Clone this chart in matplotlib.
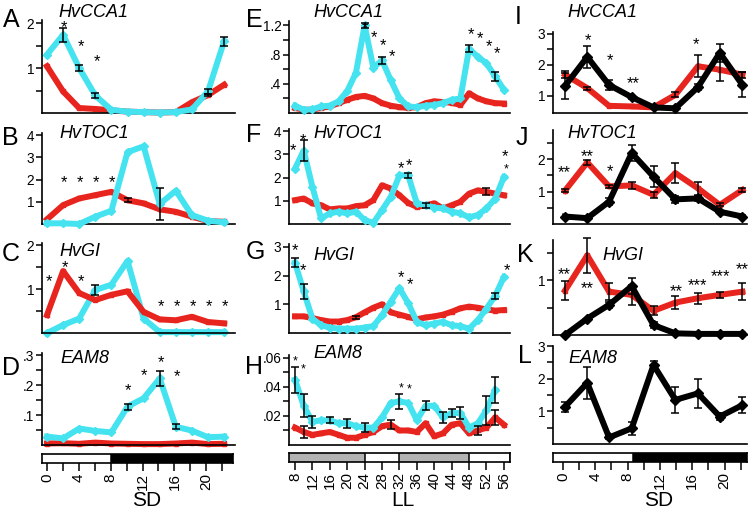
import matplotlib
matplotlib.use("Agg")
import matplotlib.pyplot as plt
from matplotlib.transforms import offset_copy

plt.rcParams['font.family'] = ['Liberation Sans', 'DejaVu Sans']

CYAN = '#45E3F0'
RED = '#E8241E'

# --- time axes ---
sd_t = [0, 2, 4, 6, 8, 10, 12, 14, 16, 18, 20, 22]
ll_t = [8, 10, 12, 14, 16, 18, 20, 22, 24, 26, 28, 30, 32, 34, 36, 38, 40,
        42, 44, 46, 48, 50, 52, 54, 56]
ll_t_h = ll_t[:-1]
sd3_t = [0.25, 3.0, 5.7, 8.5, 11.2, 13.9, 16.7, 19.4, 22.2]

# --- A HvCCA1 SD ---
a_cyan = [1.30, 1.74, 1.00, 0.39, 0.07, 0.03, 0.02, 0.01, 0.02, 0.08, 0.48, 1.60]
a_cyan_err = [0, 0.15, 0.07, 0.05, 0, 0, 0, 0, 0, 0, 0.05, 0.1]
a_red = [1.04, 0.48, 0.11, 0.09, 0.06, 0.03, 0.02, 0.01, 0.02, 0.24, 0.40, 0.63]
a_red_err = [0, 0, 0, 0, 0, 0, 0, 0, 0, 0, 0.03, 0]
a_stars = [(2.1, 2.01, '*'), (4.2, 1.59, '*'), (6.2, 1.24, '*')]

# --- B HvTOC1 SD ---
b_cyan = [0.03, 0.03, 0.0, 0.33, 0.6, 3.24, 3.5, 0.9, 1.5, 0.4, 0.15, 0.07]
b_cyan_err = [0, 0, 0, 0, 0, 0, 0, 0.7, 0, 0, 0, 0]
b_red = [0.21, 0.85, 1.15, 1.3, 1.45, 1.07, 0.93, 0.66, 0.55, 0.33, 0.13, 0.1]
b_red_err = [0, 0, 0, 0, 0, 0.1, 0, 0, 0, 0, 0, 0]
b_stars = [(2.1, 2.1, '*'), (4.1, 2.1, '*'), (6.1, 2.1, '*'), (8.1, 2.1, '*')]

# --- C HvGI SD ---
c_cyan = [0.0, 0.18, 0.33, 0.98, 1.1, 1.64, 0.33, 0.02, 0.02, 0.02, 0.02, 0.02]
c_cyan_err = [0, 0, 0, 0.12, 0, 0, 0, 0, 0, 0, 0, 0]
c_red = [0.41, 1.41, 0.91, 0.75, 0.87, 0.95, 0.48, 0.31, 0.29, 0.37, 0.25, 0.22]
c_red_err = [0] * 12
c_stars = [(0.2, 1.29, '*'), (2.2, 1.61, '*'), (4.2, 1.29, '*'), (14.1, 0.72, '*'),
           (16.1, 0.72, '*'), (18.1, 0.72, '*'), (20.1, 0.72, '*'), (22.1, 0.72, '*')]

# --- D EAM8 SD ---
d_cyan = [0.028, 0.022, 0.055, 0.047, 0.042, 0.128, 0.156, 0.222, 0.061, 0.048, 0.026, 0.028]
d_cyan_err = [0, 0, 0, 0, 0, 0.01, 0, 0.025, 0.008, 0, 0, 0]
d_red = [0.005, 0.006, 0.004, 0.008, 0.005, 0.004, 0.003, 0.003, 0.005, 0.008, 0.003, 0.004]
d_red_err = [0] * 12
d_stars = [(10.1, 0.197, '*'), (12.1, 0.247, '*'), (14.2, 0.29, '*'), (16.2, 0.243, '*')]

# --- E HvCCA1 LL ---
e_cyan = [0.10, 0.045, 0.05, 0.09, 0.10, 0.16, 0.30, 0.55, 1.20, 0.62, 0.72, 0.45, 0.20,
          0.09, 0.08, 0.10, 0.11, 0.135, 0.18, 0.20, 0.88, 0.77, 0.68, 0.50, 0.32]
e_cyan_err = [0, 0, 0, 0, 0, 0, 0, 0, 0.03, 0, 0.05, 0, 0, 0, 0, 0, 0, 0, 0, 0, 0.05, 0, 0, 0.06, 0]
e_red = [0.07, 0.045, 0.045, 0.07, 0.09, 0.135, 0.18, 0.22, 0.235, 0.2, 0.135, 0.1, 0.08,
         0.07, 0.08, 0.135, 0.16, 0.15, 0.14, 0.11, 0.27, 0.2, 0.16, 0.135, 0.13]
e_red_err = [0] * 25
e_stars = [(24.1, 1.22, '*'), (26.2, 1.1, '*'), (28.2, 0.99, '*'), (30.2, 0.84, '*'),
           (48.5, 1.14, '*'), (50.5, 1.09, '*'), (52.5, 0.98, '*'), (54.5, 0.88, '*')]

# --- F HvTOC1 LL ---
f_cyan = [2.39, 3.17, 1.6, 0.24, 0.46, 0.53, 0.46, 0.53, 0.17, 0.05, 0.6, 1.17, 2.1,
          2.1, 0.89, 0.81, 0.71, 0.67, 0.53, 0.46, 0.29, 0.39, 0.67, 1.1, 2.03]
f_cyan_err = [0, 0.45, 0, 0, 0, 0, 0, 0, 0, 0, 0, 0, 0, 0.12, 0, 0, 0, 0, 0, 0, 0, 0, 0, 0, 0]
f_red = [1.03, 1.1, 0.89, 0.81, 0.63, 0.67, 0.67, 0.77, 0.81, 1.03, 1.67, 1.53, 1.24,
         0.91, 0.74, 0.81, 0.89, 0.67, 0.81, 0.96, 1.31, 1.45, 1.39, 1.31, 1.24]
f_red_err = [0, 0, 0, 0, 0, 0, 0, 0, 0, 0, 0, 0, 0, 0, 0, 0.1, 0, 0, 0, 0, 0, 0, 0.15, 0, 0]
f_stars = [(7.6, 3.39, '*'), (9.9, 3.81, '*'), (32.3, 2.6, '*'), (34.3, 2.74, '*'),
           (56.3, 3.1, '*')]
f_small_stars = [(56.5, 2.53, '*')]

# --- G HvGI LL ---
g_cyan = [2.45, 1.45, 0.50, 0.27, 0.19, 0.15, 0.15, 0.15, 0.19, 0.24, 0.62, 1.09, 1.56,
          1.04, 0.39, 0.27, 0.33, 0.39, 0.27, 0.24, 0.15, 0.45, 0.85, 1.30, 1.95]
g_cyan_err = [0.15, 0.25, 0, 0, 0, 0, 0, 0, 0, 0, 0, 0, 0, 0, 0, 0, 0, 0, 0, 0, 0, 0, 0, 0.1, 0]
g_red = [0.58, 0.58, 0.52, 0.45, 0.40, 0.40, 0.45, 0.55, 0.72, 0.88, 1.0, 0.72, 0.64,
         0.56, 0.48, 0.54, 0.58, 0.64, 0.74, 0.86, 0.92, 0.88, 0.82, 0.78, 0.8]
g_red_err = [0, 0, 0, 0, 0, 0, 0, 0.05, 0, 0, 0, 0, 0, 0, 0, 0, 0, 0, 0, 0, 0, 0, 0, 0, 0]
g_stars = [(8.0, 3.04, '*'), (9.9, 2.35, '*'), (32.3, 2.09, '*'), (34.4, 1.84, '*'),
           (56.7, 2.35, '*')]

# --- H EAM8 LL ---
h_cyan = [0.045, 0.027, 0.016, 0.017, 0.017, 0.015, 0.015, 0.013, 0.012, 0.012, 0.019, 0.029,
          0.030, 0.029, 0.017, 0.027, 0.027, 0.019, 0.022, 0.022, 0.012, 0.015, 0.024, 0.038]
h_cyan_err = [0.009, 0.008, 0.004, 0, 0.002, 0, 0.003, 0, 0.003, 0, 0, 0, 0.005, 0, 0, 0.003,
              0, 0.004, 0.003, 0.004, 0, 0, 0.01, 0.009]
h_red = [0.012, 0.009, 0.007, 0.008, 0.009, 0.007, 0.005, 0.005, 0.007, 0.009, 0.013, 0.014,
         0.010, 0.010, 0.009, 0.015, 0.006, 0.008, 0.014, 0.015, 0.008, 0.010, 0.012, 0.019, 0.014]
h_red_err = [0, 0.004, 0, 0, 0, 0, 0, 0, 0, 0, 0, 0.003, 0, 0, 0, 0, 0, 0, 0, 0, 0, 0.003, 0, 0.005, 0]
h_small_stars = [(8.0, 0.060, '*'), (9.8, 0.055, '*'), (32.3, 0.042, '*'), (34.3, 0.041, '*')]

# --- I HvCCA1 SD ---
i_black = [1.32, 2.25, 1.35, 0.96, 0.63, 0.60, 1.28, 2.38, 1.35]
i_black_err = [0.42, 0.35, 0.15, 0.05, 0, 0, 0.1, 0.28, 0.4]
i_red = [1.68, 1.25, 0.68, 0.66, 0.63, 1.03, 1.95, 1.84, 1.68]
i_red_err = [0.12, 0.05, 0, 0, 0, 0.08, 0.35, 0.35, 0.1]
i_stars = [(3.1, 2.94, '*'), (5.8, 2.29, '*'), (8.7, 1.54, '**'), (16.5, 2.8, '*')]

# --- J HvTOC1 SD ---
j_black = [0.23, 0.18, 0.69, 2.19, 1.46, 0.76, 0.79, 0.38, 0.23]
j_black_err = [0, 0, 0.1, 0.25, 0.32, 0.1, 0.08, 0, 0]
j_red = [1.03, 1.9, 1.16, 1.19, 0.9, 1.57, 1.1, 0.59, 1.05]
j_red_err = [0.05, 0.07, 0.05, 0.12, 0.1, 0.3, 0.2, 0.05, 0.05]
j_stars = [(0.2, 1.72, '**'), (3.0, 2.24, '**'), (5.8, 1.77, '*')]

# --- K HvGI SD ---
k_black = [0.0, 0.3, 0.55, 0.89, 0.18, 0.03, 0.02, 0.02, 0.02]
k_black_err = [0, 0, 0.05, 0.14, 0.05, 0, 0, 0, 0]
k_red = [0.81, 1.45, 0.79, 0.73, 0.44, 0.59, 0.67, 0.73, 0.79]
k_red_err = [0.17, 0.32, 0.15, 0.18, 0.08, 0.12, 0.1, 0.05, 0.15]
k_stars = [(0.2, 1.19, '**'), (3.0, 0.94, '**'), (14.0, 0.88, '**'), (16.7, 0.99, '***'),
           (19.5, 1.15, '***'), (22.2, 1.27, '**')]

# --- L EAM8 SD ---
l_black = [1.14, 1.87, 0.2, 0.48, 2.42, 1.35, 1.55, 0.84, 1.19]
l_black_err = [0.15, 0.5, 0.05, 0.2, 0.12, 0.4, 0.45, 0.12, 0.25]

W, H = 749, 509
fig = plt.figure(figsize=(W / 100, H / 100), dpi=100)


def px_axes(left, right, top, bottom):
    return fig.add_axes([left / W, 1 - bottom / H, (right - left) / W, (bottom - top) / H])


def panel(left, right, top, bottom, xlim, ylim, major, labels, minor):
    ax = px_axes(left, right, top, bottom)
    ax.set_xlim(xlim)
    ax.set_ylim(ylim)
    ax.patch.set_alpha(0)
    ax.spines['top'].set_visible(False)
    ax.spines['right'].set_visible(False)
    ax.spines['left'].set_linewidth(1.2)
    ax.spines['bottom'].set_linewidth(1.2)
    ax.set_xticks([])
    ax.set_yticks(major)
    ax.set_yticklabels(labels)
    ax.set_yticks(minor, minor=True)
    ax.tick_params(axis='y', which='both', direction='out', length=4, width=1.1,
                   labelsize=9.8, pad=1.5)
    return ax


def series(ax, t, y, err, color, marker, ms, z):
    ax.plot(t, y, color=color, lw=4.3, marker=marker, ms=ms, mec=color, zorder=z,
            clip_on=False)
    tt = [a for a, e in zip(t, err) if e > 0]
    yy = [b for b, e in zip(y, err) if e > 0]
    ee = [e for e in err if e > 0]
    if ee:
        ax.errorbar(tt, yy, yerr=ee, fmt='none', ecolor='k', elinewidth=1.1,
                    capsize=2.6, capthick=1.1, zorder=z + 5, clip_on=False)


def stars(ax, pts, fs=12):
    tr = offset_copy(ax.transData, fig=fig, y=-0.56 * fs, units='points')
    for x, y, s in pts:
        ax.text(x, y, s, transform=tr, ha='center', va='baseline', fontsize=fs,
                clip_on=False)


def timeline(left, right, top, bottom, xlim, segs, ticks, labels, minor):
    ax = px_axes(left, right, top, bottom)
    ax.set_xlim(xlim)
    ax.set_ylim(0, 1)
    for x0, x1, c in segs:
        ax.axvspan(x0, x1, color=c, lw=0)
        ax.axvline(x1, color='k', lw=1.1)
    for s in ax.spines.values():
        s.set_linewidth(1.2)
    ax.set_yticks([])
    ax.set_xticks(ticks)
    ax.set_xticklabels(labels, rotation=90)
    ax.set_xticks(minor, minor=True)
    ax.tick_params(axis='x', which='both', direction='out', length=6, width=1.1,
                   labelsize=11, pad=1.5)
    return ax


# column geometry
c1 = (42, 235, (-0.62, 23.35))
c2 = (289, 510, (6.62, 57.4))
c3 = (553, 747, (-1.24, 22.77))

# column 1
ax = panel(c1[0], c1[1], 20, 113, c1[2], (0, 2.07), [1, 2], ['1', '2'], [0.5, 1.5])
series(ax, sd_t, a_red, a_red_err, RED, 's', 3.5, 2)
series(ax, sd_t, a_cyan, a_cyan_err, CYAN, 'D', 4, 3)
stars(ax, a_stars)

ax = panel(c1[0], c1[1], 133, 224, c1[2], (0, 4.1), [1, 2, 3, 4], ['1', '2', '3', '4'], [])
series(ax, sd_t, b_red, b_red_err, RED, 's', 3.5, 2)
series(ax, sd_t, b_cyan, b_cyan_err, CYAN, 'D', 4, 3)
stars(ax, b_stars)

ax = panel(c1[0], c1[1], 243, 333, c1[2], (0, 2.05), [1, 2], ['1', '2'], [0.5, 1.5])
series(ax, sd_t, c_cyan, c_cyan_err, CYAN, 'D', 4, 2)
series(ax, sd_t, c_red, c_red_err, RED, 's', 3.5, 3)
stars(ax, c_stars)

ax = panel(c1[0], c1[1], 353, 445, c1[2], (0, 0.307), [0.1, 0.2, 0.3], ['.1', '.2', '.3'],
           [0.05, 0.15, 0.25])
series(ax, sd_t, d_red, d_red_err, RED, 's', 3.5, 2)
series(ax, sd_t, d_cyan, d_cyan_err, CYAN, 'D', 4, 3)
stars(ax, d_stars)

timeline(c1[0], c1[1] - 2, 454, 463, c1[2], [(-0.62, 8, 'white'), (8, 23.35, 'black')],
         [0, 4, 8, 12, 16, 20], ['0', '4', '8', '12', '16', '20'],
         [2, 6, 10, 14, 18, 22])

# column 2
ax = panel(c2[0], c2[1], 21, 113, c2[2], (0, 1.26), [0.4, 0.8, 1.2], ['.4', '.8', '1.2'],
           [0.2, 0.6, 1.0])
series(ax, ll_t, e_red, e_red_err, RED, 's', 3.5, 2)
series(ax, ll_t, e_cyan, e_cyan_err, CYAN, 'D', 4, 3)
stars(ax, e_stars)

ax = panel(c2[0], c2[1], 129, 224, c2[2], (0, 4.1), [1, 2, 3, 4], ['1', '2', '3', '4'], [])
series(ax, ll_t, f_red, f_red_err, RED, 's', 3.5, 2)
series(ax, ll_t, f_cyan, f_cyan_err, CYAN, 'D', 4, 3)
stars(ax, f_stars)
stars(ax, f_small_stars, fs=9)

ax = panel(c2[0], c2[1], 244, 333, c2[2], (0, 3.1), [1, 2, 3], ['1', '2', '3'], [])
series(ax, ll_t, g_red, g_red_err, RED, 's', 3.5, 2)
series(ax, ll_t, g_cyan, g_cyan_err, CYAN, 'D', 4, 3)
stars(ax, g_stars)

ax = panel(c2[0], c2[1], 355, 445, c2[2], (0, 0.062), [0.02, 0.04, 0.06],
           ['.02', '.04', '.06'], [0.01, 0.03, 0.05])
series(ax, ll_t, h_red, h_red_err, RED, 's', 3.5, 2)
series(ax, ll_t_h, h_cyan, h_cyan_err, CYAN, 'D', 4, 3)
stars(ax, h_small_stars, fs=9)

timeline(c2[0], c2[1], 453, 462, c2[2],
         [(6.62, 24, '#b3b3b3'), (24, 32, 'white'), (32, 48, '#b3b3b3'), (48, 57.4, 'white')],
         list(range(8, 57, 4)), [str(v) for v in range(8, 57, 4)], [])

# column 3
ax = panel(c3[0], c3[1], 32, 113, c3[2], (0.45, 3.05), [1, 2, 3], ['1', '2', '3'],
           [1.5, 2.5])
series(ax, sd3_t, i_red, i_red_err, RED, 's', 3.5, 2)
series(ax, sd3_t, i_black, i_black_err, 'black', 'D', 5, 3)
stars(ax, i_stars)

ax = panel(c3[0], c3[1], 130, 224, c3[2], (0, 2.9), [1, 2], ['1', '2'], [0.5, 1.5, 2.5])
series(ax, sd3_t, j_red, j_red_err, RED, 's', 3.5, 2)
series(ax, sd3_t, j_black, j_black_err, 'black', 'D', 5, 3)
stars(ax, j_stars)

ax = panel(c3[0], c3[1], 240, 335, c3[2], (0, 1.73), [1], ['1'], [0.5, 1.5])
series(ax, sd3_t, k_red, k_red_err, RED, 's', 3.5, 2)
series(ax, sd3_t, k_black, k_black_err, 'black', 'D', 5, 3)
stars(ax, k_stars)

ax = panel(c3[0], c3[1], 346, 444, c3[2], (0, 3.0), [1, 2, 3], ['1', '2', '3'],
           [0.5, 1.5, 2.5])
series(ax, sd3_t, l_black, l_black_err, 'black', 'D', 5, 3)

timeline(c3[0], c3[1], 453, 462, c3[2], [(-1.24, 8.6, 'white'), (8.6, 22.77, 'black')],
         [0, 4, 8, 12, 16, 20], ['0', '4', '8', '12', '16', '20'],
         [2, 6, 10, 14, 18, 22])

# panel letters
letters = [('A', 3, 27), ('B', 2, 145), ('C', 2, 261), ('D', 2, 375),
           ('E', 246, 27), ('F', 246, 142), ('G', 246, 259), ('H', 245, 374),
           ('I', 515, 24), ('J', 516, 145), ('K', 517, 262), ('L', 518, 363)]
for s, x, y in letters:
    fig.text(x / W, 1 - y / H, s, fontsize=18, ha='left', va='baseline')

genes = [('HvCCA1', 58, 17), ('HvTOC1', 59, 138), ('HvGI', 59, 256), ('EAM8', 60, 363),
         ('HvCCA1', 313, 17), ('HvTOC1', 313, 138), ('HvGI', 313, 260), ('EAM8', 313, 358),
         ('HvCCA1', 567, 17), ('HvTOC1', 567, 138), ('HvGI', 602, 260), ('EAM8', 568, 363)]
for s, x, y in genes:
    fig.text(x / W, 1 - y / H, s, fontsize=13, style='italic', ha='left', va='baseline')

for s, x in [('SD', 147), ('LL', 403), ('SD', 659)]:
    fig.text(x / W, 1 - 506 / H, s, fontsize=15, ha='center', va='baseline')

fig.savefig('out.png', dpi=100)
